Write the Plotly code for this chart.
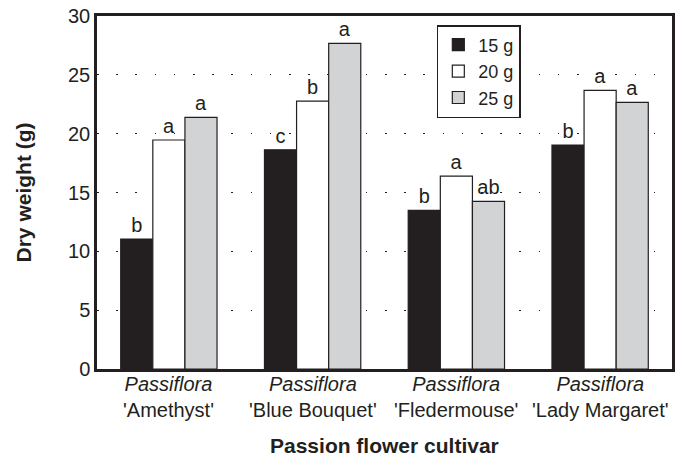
import plotly.graph_objects as go

cultivars = ["'Amethyst'", "'Blue Bouquet'", "'Fledermouse'", "'Lady Margaret'"]
genus = "Passiflora"
series_names = ["15 g", "20 g", "25 g"]
values_15 = [11.05, 18.63, 13.48, 19.03]
values_20 = [19.46, 22.77, 16.40, 23.68]
values_25 = [21.38, 27.67, 14.25, 22.66]
letters_15 = ["b", "c", "b", "b"]
letters_20 = ["a", "b", "a", "a"]
letters_25 = ["a", "a", "ab", "a"]
y_ticks = [0, 5, 10, 15, 20, 25, 30]

colors = ["#231f20", "#ffffff", "#d1d3d4"]
dark = "#231f20"
font = "Liberation Sans, Arial, sans-serif"
FS = 20

fig = go.Figure()
for name, vals, lets, col in zip(series_names, [values_15, values_20, values_25],
                                 [letters_15, letters_20, letters_25], colors):
    fig.add_trace(go.Bar(
        x=cultivars, y=vals, name=name, text=lets, textposition="outside",
        textfont=dict(size=FS, color=dark, family=font),
        marker=dict(color=col, line=dict(color=dark, width=1.2)),
        cliponaxis=False,
    ))

annotations = []
for c in cultivars:
    annotations.append(dict(x=c, y=-0.08, xref="x", yref="paper",
                            text=f"<i>{genus}</i><br>{c}",
                            showarrow=False, xanchor="center", yanchor="middle",
                            font=dict(size=FS, family=font, color=dark)))
annotations.append(dict(x=0.5, y=-0.218, xref="paper", yref="paper",
                        text="<b>Passion flower cultivar</b>", showarrow=False,
                        xanchor="center", yanchor="middle",
                        font=dict(size=21, family=font, color=dark)))
annotations.append(dict(x=-0.127, y=0.5, xref="paper", yref="paper",
                        text="<b>Dry weight (g)</b>", showarrow=False, textangle=-90,
                        xanchor="center", yanchor="middle",
                        font=dict(size=21, family=font, color=dark)))

fig.update_layout(
    width=685, height=457,
    margin=dict(l=97, r=13, t=16, b=88, autoexpand=False),
    barmode="group", bargap=0.33, bargroupgap=0,
    plot_bgcolor="white", paper_bgcolor="white",
    font=dict(family=font, size=FS, color=dark),
    showlegend=True,
    legend=dict(x=0.591, y=0.9745, xanchor="left", yanchor="top",
                bgcolor="white", bordercolor=dark, borderwidth=1.5,
                font=dict(size=18, family=font, color=dark),
                tracegroupgap=0),
    annotations=annotations,
)
fig.update_xaxes(
    showline=True, linewidth=2.5, linecolor=dark, mirror=True,
    ticks="", showticklabels=False, automargin=False,
    range=[-0.5, 3.5],
)
fig.update_yaxes(
    range=[0, 30], tickvals=y_ticks, showline=True, linewidth=2.5, linecolor=dark, mirror=True,
    showgrid=True, gridcolor=dark, gridwidth=1.2, griddash="1.5px,17.7px",
    zeroline=False, ticks="", automargin=False,
    tickfont=dict(size=FS, family=font, color=dark),
)
fig.write_html("out.html")
